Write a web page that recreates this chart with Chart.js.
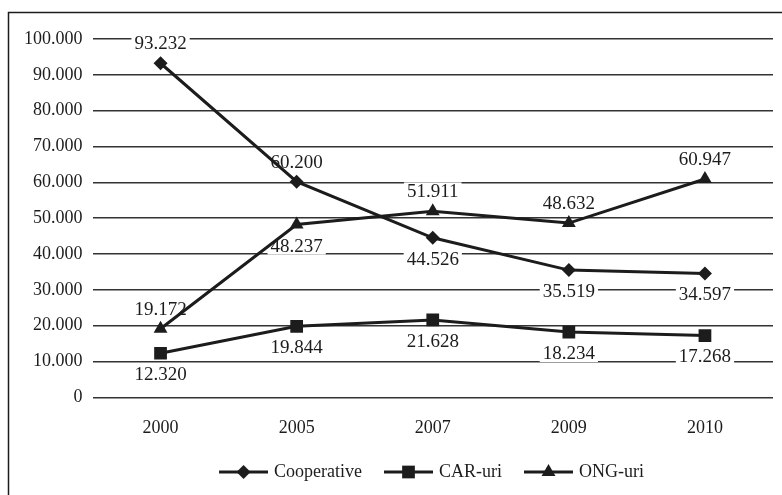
<!DOCTYPE html>
<html>
<head>
<meta charset="utf-8">
<script src="https://cdn.jsdelivr.net/npm/chart.js@4.4.1/dist/chart.umd.min.js"></script>
<style>
  html, body { margin: 0; padding: 0; background: #fff; }
  #wrap { position: relative; width: 782px; height: 495px; }
</style>
</head>
<body>
<div id="wrap"><canvas id="grafic"></canvas></div>
<script>
var years = ['2000', '2005', '2007', '2009', '2010'];
var cooperative = [93232, 60200, 44526, 35519, 34597];
var carUri = [12320, 19844, 21628, 18234, 17268];
var ongUri = [19172, 48237, 51911, 48632, 60947];

// which side of the point each value label goes
var posCooperative = ['up', 'up', 'down', 'down', 'down'];
var posCarUri = ['down', 'down', 'down', 'down', 'down'];
var posOngUri = ['up', 'down', 'up', 'up', 'up'];

var INK = '#1c1c1c';
var SERIF = '"Liberation Serif", "Times New Roman", serif';

Chart.defaults.font.family = SERIF;
Chart.defaults.font.size = 18;
Chart.defaults.color = INK;

// 100000 -> "100.000"
function fmt(v) {
    return String(v).replace(/\B(?=(\d{3})+(?!\d))/g, '.');
}

// legend symbol: a short line with the marker in the middle
// (canvas is a bit wider than the box so the text sits close to the line)
function legendIcon(style, radius) {
    var c = document.createElement('canvas');
    c.width = 62;
    c.height = 18;
    var g = c.getContext('2d');
    g.strokeStyle = INK;
    g.fillStyle = INK;
    g.lineWidth = 3;
    g.beginPath();
    g.moveTo(13, 9);
    g.lineTo(62, 9);
    g.stroke();
    Chart.helpers.drawPoint(g, {pointStyle: style, radius: radius, borderWidth: 0}, 37.5, 9);
    return c;
}

// value labels on a white box, drawn under the lines but over the grid
var valueLabels = {
    id: 'valueLabels',
    beforeDatasetsDraw: function(chart) {
        var ctx = chart.ctx;
        ctx.save();
        ctx.font = '19px ' + SERIF;
        ctx.textAlign = 'center';
        ctx.textBaseline = 'middle';
        chart.data.datasets.forEach(function(ds, i) {
            var meta = chart.getDatasetMeta(i);
            meta.data.forEach(function(pt, j) {
                var text = fmt(ds.data[j]);
                var y = ds.labelPos[j] === 'up' ? pt.y - 20 : pt.y + 21;
                var w = ctx.measureText(text).width;
                ctx.fillStyle = '#fff';
                ctx.fillRect(pt.x - w / 2 - 3, y - 9, w + 6, 18);
                ctx.fillStyle = INK;
                ctx.fillText(text, pt.x, y + 1);
            });
        });
        ctx.restore();
    }
};

// outer frame, and the legend nudged right of centre
var frame = {
    id: 'frame',
    afterLayout: function(chart) {
        chart.legend.left += 26;
        chart.legend.right += 26;
    },
    afterDraw: function(chart) {
        var ctx = chart.ctx;
        ctx.save();
        ctx.strokeStyle = INK;
        ctx.lineWidth = 1.5;
        ctx.strokeRect(8.5, 12.5, 800, 500);
        ctx.restore();
    }
};

function series(label, data, pos, style, radius) {
    return {
        label: label,
        data: data,
        labelPos: pos,
        borderColor: INK,
        backgroundColor: INK,
        borderWidth: 3,
        pointStyle: style,
        pointRadius: radius,
        pointHoverRadius: radius,
        pointBorderWidth: 0,
        pointBackgroundColor: INK,
        tension: 0,
        fill: false,
        icon: legendIcon(style, radius)
    };
}

var config = {
    type: 'line',
    data: {
        labels: years,
        datasets: [
            series('Cooperative', cooperative, posCooperative, 'rectRot', 7),
            series('CAR-uri', carUri, posCarUri, 'rect', 9),
            series('ONG-uri', ongUri, posOngUri, 'triangle', 8)
        ]
    },
    options: {
        responsive: false,
        animation: false,
        layout: {
            padding: {top: 39, left: 14, right: -5, bottom: 4}
        },
        plugins: {
            tooltip: {enabled: false},
            legend: {
                position: 'bottom',
                labels: {
                    usePointStyle: true,
                    pointStyleWidth: 56,
                    padding: 12,
                    color: INK,
                    font: {family: SERIF, size: 18},
                    generateLabels: function(chart) {
                        return chart.data.datasets.map(function(ds, i) {
                            return {
                                text: ds.label,
                                pointStyle: ds.icon,
                                fillStyle: INK,
                                strokeStyle: INK,
                                lineWidth: 0,
                                fontColor: INK,
                                datasetIndex: i
                            };
                        });
                    }
                }
            }
        },
        scales: {
            x: {
                offset: true,
                grid: {display: false},
                border: {display: false},
                ticks: {color: INK, padding: 12, font: {family: SERIF, size: 18}}
            },
            y: {
                min: 0,
                max: 100000,
                border: {display: false},
                grid: {color: '#333', lineWidth: 1.5, drawTicks: false},
                ticks: {
                    stepSize: 10000,
                    padding: 10,
                    color: INK,
                    font: {family: SERIF, size: 18},
                    callback: function(v) { return fmt(v); }
                }
            }
        }
    },
    plugins: [valueLabels, frame]
};

var canvas = document.getElementById('grafic');
canvas.width = 782;
canvas.height = 495;
new Chart(canvas.getContext('2d'), config);
</script>
</body>
</html>
